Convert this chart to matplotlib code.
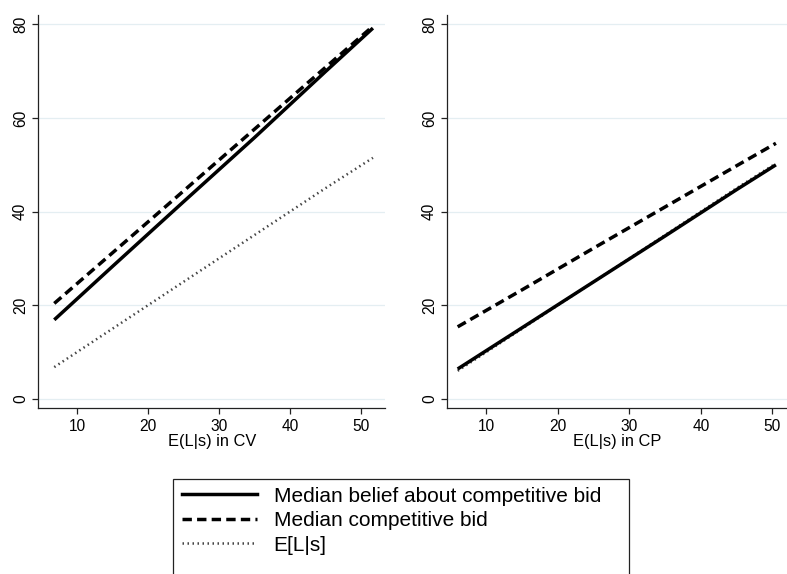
import matplotlib.pyplot as plt
from matplotlib.patches import Rectangle
from matplotlib.lines import Line2D

plt.rcParams['font.family'] = ['Liberation Sans', 'DejaVu Sans']

# CV panel
cv_x = [6.8, 15, 25, 35, 45, 51.7]
cv_belief = [16.9, 28.3, 42.1, 55.8, 69.9, 79.2]
cv_bid = [20.4, 31.2, 44.4, 57.6, 70.8, 79.6]
cv_exp = [6.8, 15, 25, 35, 45, 51.5]

# CP panel
cp_x = [6.0, 15, 25, 35, 45, 50.5]
cp_belief = [6.4, 15.2, 25.0, 34.8, 44.7, 50.0]
cp_bid = [15.4, 23.3, 32.2, 41.0, 49.8, 54.6]
cp_exp = [6.0, 15, 25, 35, 45, 50.3]

labels = ['Median belief about competitive bid', 'Median competitive bid', 'E[L|s]']
xlabels = ['E(L|s) in CV', 'E(L|s) in CP']

W, H = 787, 574
fig = plt.figure(figsize=(W / 100, H / 100), dpi=100)

ax1 = fig.add_axes([38.3 / W, 1 - 408.3 / H, (385 - 38.3) / W, (408.3 - 15) / H])
ax2 = fig.add_axes([447.3 / W, 1 - 408.3 / H, (787 - 447.3) / W, (408.3 - 15) / H])

dot = (0, (0.6, 1.4))
dash = (0, (2.7, 1.5))

for ax, x, b, c, e, xl, xmax in [
    (ax1, cv_x, cv_belief, cv_bid, cv_exp, xlabels[0], 53.4),
    (ax2, cp_x, cp_belief, cp_bid, cp_exp, xlabels[1], 52.05),
]:
    ax.plot(x, e, color='#444444', lw=1.8, ls=dot, dash_capstyle='butt', zorder=3)
    ax.plot(x, b, color='black', lw=2.5, solid_capstyle='butt', zorder=4)
    ax.plot(x, c, color='black', lw=2.5, ls=dash, dash_capstyle='butt', zorder=5)
    ax.set_xlim(4.55, xmax)
    ax.set_ylim(-2, 82)
    ax.set_xticks([10, 20, 30, 40, 50])
    ax.set_yticks([0, 20, 40, 60, 80])
    ax.grid(axis='y', color='#e4eef2', lw=0.9)
    ax.set_axisbelow(True)
    for s in ['top', 'right']:
        ax.spines[s].set_visible(False)
    for s in ['left', 'bottom']:
        ax.spines[s].set_color('#222222')
        ax.spines[s].set_linewidth(0.9)
    ax.tick_params(axis='both', length=4, width=0.9, color='#222222', labelsize=11.2, pad=3.5)
    for t in ax.get_yticklabels():
        t.set_rotation(90)
        t.set_va('center')
    ax.set_xlabel(xl, fontsize=11.8, labelpad=0.5)

handles = [
    Line2D([], [], color='black', lw=2.5),
    Line2D([], [], color='black', lw=2.5, ls=dash),
    Line2D([], [], color='#444444', lw=1.8, ls=dot),
]
fig.legend(handles, labels, loc='upper left', bbox_to_anchor=(182 / W, 1 - 486.5 / H),
           frameon=False, fontsize=15, handlelength=3.6, handletextpad=0.8,
           labelspacing=0.27, borderpad=0, borderaxespad=0)
fig.add_artist(Rectangle((173 / W, -0.05), (629 - 173) / W, 1 - 479 / H + 0.05,
                         transform=fig.transFigure, fill=False, edgecolor='#222222', lw=0.9))

fig.savefig('out.png', dpi=100)
